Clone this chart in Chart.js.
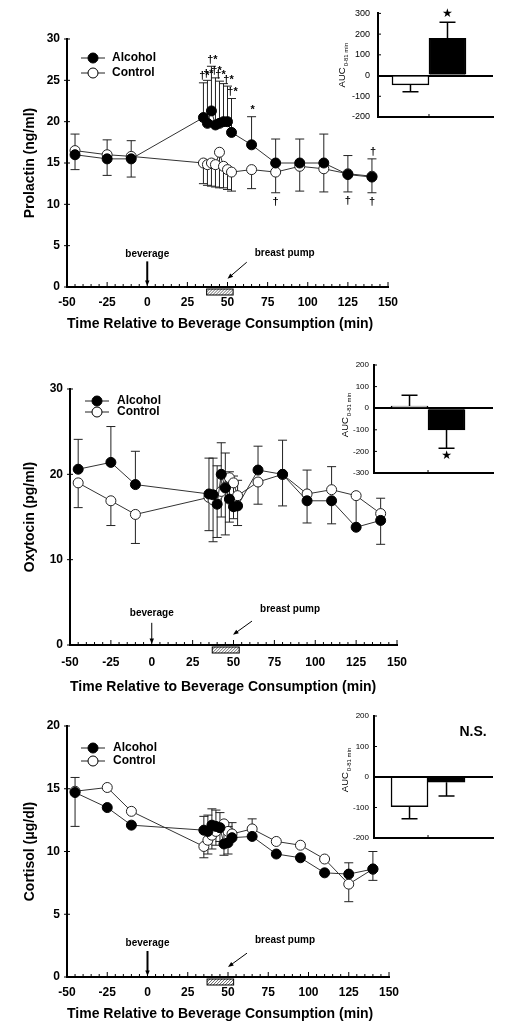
<!DOCTYPE html>
<html>
<head>
<meta charset="utf-8">
<script src="https://cdn.jsdelivr.net/npm/chart.js@4.4.1/dist/chart.umd.min.js"></script>
<style>
html,body{margin:0;padding:0;background:#fff;}
#wrap{position:relative;width:508px;height:1031px;overflow:hidden;background:#fff;}
canvas{position:absolute;}
</style>
</head>
<body>
<div id="wrap">
<canvas id="c1" width="508" height="340" style="left:0;top:0;"></canvas>
<canvas id="c2" width="508" height="357" style="left:0;top:340px;"></canvas>
<canvas id="c3" width="508" height="334" style="left:0;top:697px;"></canvas>
<canvas id="i1" width="208" height="135" style="left:300px;top:0;"></canvas>
<canvas id="i2" width="208" height="130" style="left:300px;top:355px;"></canvas>
<canvas id="i3" width="208" height="145" style="left:300px;top:706px;"></canvas>
</div>
<script>
const FONT = "'Liberation Sans', Arial, Helvetica, sans-serif";
const N = null;

// ---------- shared axis data ----------
const timePoints = [-45, -25, -10, 35, 37.5, 40, 42.5, 45, 47.5, 50, 52.5, 65, 80, 95, 110, 125, 140];
const xTicks = [-50, -25, 0, 25, 50, 75, 100, 125, 150];
const pumpPeriod = [37, 53.5];
const beverageTime = 0;

// ---------- Prolactin (ng/ml) ----------
const prolactinYTicks = [0, 5, 10, 15, 20, 25, 30];
const prolactinAlcohol = [16.0, 15.5, 15.5, 20.5, 19.8, 21.3, 19.6, 19.8, 20.0, 20.0, 18.7, 17.2, 15.0, 15.0, 15.0, 13.6, 13.3];
const prolactinControl = [16.5, 16.0, 15.8, 15.0, 14.8, 15.0, 14.8, 16.3, 14.6, 14.2, 13.9, 14.2, 13.9, 14.6, 14.3, 13.7, 13.4];
const prolactinAlcoholHi = [N, N, N, 24.7, 25.0, 26.7, 25.3, 24.9, 24.6, 24.3, 22.8, 20.6, 17.9, 17.9, 18.5, 15.9, 15.5];
const prolactinAlcoholLo = [14.2, 13.5, 13.3, N, N, N, N, N, N, N, N, N, N, N, N, N, N];
const prolactinControlHi = [18.5, 17.8, 17.7, N, N, N, N, N, N, N, N, N, N, N, N, N, N];
const prolactinControlLo = [N, N, N, 12.5, 12.3, 12.2, 12.1, 12.0, 12.0, 11.8, 11.6, 11.9, 11.4, 11.6, 11.5, 11.5, 11.4];
const prolactinMarksAbove = ['', '', '', '†*', '†*', '†*', '†*', '†*', '', '†*', '†*', '*', '', '', '', '', '†'];
const prolactinMarksBelow = ['', '', '', '', '', '', '', '', '', '', '', '', '†', '', '', '†', '†'];

// ---------- Oxytocin (pg/ml) ----------
const oxytocinYTicks = [0, 10, 20, 30];
const oxytocinAlcohol = [20.6, 21.4, 18.8, 17.7, 17.6, 16.5, 20.0, 18.4, 17.1, 16.2, 16.3, 20.5, 20.0, 16.9, 16.9, 13.8, 14.6];
const oxytocinControl = [19.0, 16.9, 15.3, 17.3, 17.0, 17.5, 18.0, 18.5, 19.6, 19.0, 17.5, 19.1, 20.0, 17.7, 18.2, 17.5, 15.4];
const oxytocinAlcoholHi = [24.1, 25.6, 22.7, 21.9, 21.9, 21.0, 23.7, 22.5, 20.3, 19.8, 19.3, 23.3, 24.0, N, N, 17.6, N];
const oxytocinAlcoholLo = [N, N, N, 13.4, 12.1, 12.6, 15.0, 12.9, 14.4, 14.8, 14.0, N, N, 14.3, 14.2, N, 11.8];
const oxytocinControlHi = [N, N, N, N, N, N, N, N, N, N, N, N, N, 20.5, 20.9, N, 17.2];
const oxytocinControlLo = [16.1, 14.0, 11.9, N, N, N, N, N, N, N, N, 16.5, 16.3, N, N, N, N];

// ---------- Cortisol (µg/dl) ----------
const cortisolYTicks = [0, 5, 10, 15, 20];
const cortisolAlcohol = [14.7, 13.5, 12.1, 11.7, 11.6, 12.1, 12.0, 11.9, 10.6, 10.7, 11.1, 11.2, 9.8, 9.5, 8.3, 8.2, 8.6];
const cortisolControl = [14.8, 15.1, 13.2, 10.4, 10.9, 11.3, 11.6, 11.9, 12.2, 11.6, 11.4, 11.8, 10.8, 10.5, 9.4, 7.4, 8.6];
const cortisolAlcoholHi = [N, N, N, 12.8, 12.9, 13.4, 13.3, 13.1, 12.0, 12.0, 12.3, N, N, N, N, 9.1, 10.0];
const cortisolAlcoholLo = [12.0, N, N, N, N, N, N, N, 9.7, 9.8, N, N, N, N, N, N, 7.7];
const cortisolControlHi = [15.9, N, N, N, N, N, N, N, N, N, N, 12.6, N, N, N, N, N];
const cortisolControlLo = [N, N, N, 9.5, 9.8, 10.2, 10.5, 10.8, N, N, N, N, N, N, N, 6.0, N];

// ---------- AUC insets ----------
const aucGroups = ['Control', 'Alcohol'];
const aucPositions = [1, 2];
const prolactinAUC = [-45, 180];
const prolactinAUCErr = [33, 77];
const prolactinAUCTicks = [-200, -100, 0, 100, 200, 300];
const oxytocinAUC = [10, -100];
const oxytocinAUCErr = [50, 85];
const oxytocinAUCTicks = [-300, -200, -100, 0, 100, 200];
const cortisolAUC = [-97, -17];
const cortisolAUCErr = [40, 45];
const cortisolAUCTicks = [-200, -100, 0, 100, 200];

// ---------- helpers ----------
function arrow(ctx, x1, y1, x2, y2, lw, head) {
  const ang = Math.atan2(y2 - y1, x2 - x1);
  ctx.lineWidth = lw;
  ctx.beginPath();
  ctx.moveTo(x1, y1);
  ctx.lineTo(x2 - Math.cos(ang) * head * 0.7, y2 - Math.sin(ang) * head * 0.7);
  ctx.stroke();
  ctx.beginPath();
  ctx.moveTo(x2, y2);
  ctx.lineTo(x2 - head * Math.cos(ang - 0.38), y2 - head * Math.sin(ang - 0.38));
  ctx.lineTo(x2 - head * Math.cos(ang + 0.38), y2 - head * Math.sin(ang + 0.38));
  ctx.closePath();
  ctx.fill();
}

function mainChart(id, p) {
  const canvas = document.getElementById(id);
  const W = canvas.width, H = canvas.height;
  const A = p.area;
  const plugin = {
    id: 'deco_' + id,
    beforeDatasetsDraw(chart) {
      const { ctx, scales: { x, y } } = chart;
      ctx.save();
      ctx.strokeStyle = '#222';
      ctx.lineWidth = 1;
      [[p.alcohol, p.alcHi, p.alcLo], [p.control, p.ctlHi, p.ctlLo]].forEach(([vals, hi, lo]) => {
        timePoints.forEach((t, i) => {
          const px = x.getPixelForValue(t), py = y.getPixelForValue(vals[i]);
          [hi[i], lo[i]].forEach(e => {
            if (e == null) return;
            const ey = y.getPixelForValue(e);
            ctx.beginPath();
            ctx.moveTo(px, py); ctx.lineTo(px, ey);
            ctx.moveTo(px - 4.5, ey); ctx.lineTo(px + 4.5, ey);
            ctx.stroke();
          });
        });
      });
      ctx.restore();
    },
    afterDraw(chart) {
      const { ctx, chartArea: a, scales: { x, y } } = chart;
      ctx.save();
      ctx.strokeStyle = '#000';
      ctx.fillStyle = '#000';
      // x axis minor / major ticks (pointing up)
      ctx.lineWidth = 1;
      for (let t = xTicks[0]; t <= xTicks[xTicks.length - 1]; t += 5) {
        const px = x.getPixelForValue(t);
        const len = (t % 25 === 0) ? 5 : 3;
        ctx.beginPath(); ctx.moveTo(px, a.bottom); ctx.lineTo(px, a.bottom - len); ctx.stroke();
      }
      // y axis ticks
      p.yTicks.forEach(v => {
        const py = y.getPixelForValue(v);
        ctx.beginPath(); ctx.moveTo(a.left - 3, py); ctx.lineTo(a.left + 3, py); ctx.stroke();
      });
      // hatched breast-pump bar
      const hx1 = x.getPixelForValue(pumpPeriod[0]), hx2 = x.getPixelForValue(pumpPeriod[1]);
      const hy = a.bottom + 2, hh = 6;
      ctx.save();
      ctx.beginPath(); ctx.rect(hx1, hy, hx2 - hx1, hh); ctx.clip();
      ctx.strokeStyle = '#444'; ctx.lineWidth = 0.8;
      for (let k = hx1 - hh; k < hx2 + hh; k += 3) {
        ctx.beginPath(); ctx.moveTo(k, hy + hh); ctx.lineTo(k + hh, hy); ctx.stroke();
      }
      ctx.restore();
      ctx.lineWidth = 1; ctx.strokeStyle = '#000';
      ctx.strokeRect(hx1, hy, hx2 - hx1, hh);
      // beverage arrow
      const bx = x.getPixelForValue(beverageTime);
      arrow(ctx, bx, y.getPixelForValue(p.bev.top), bx, a.bottom - 1, p.bev.lw, 6);
      ctx.font = 'bold 10px ' + FONT;
      ctx.textAlign = 'center'; ctx.textBaseline = 'middle';
      ctx.fillText('beverage', bx, y.getPixelForValue(p.bev.label));
      // breast pump arrow
      const bp = p.pump;
      arrow(ctx, x.getPixelForValue(bp.from[0]), y.getPixelForValue(bp.from[1]),
        x.getPixelForValue(bp.to[0]), y.getPixelForValue(bp.to[1]), 1, 6);
      ctx.fillText('breast pump', x.getPixelForValue(bp.label[0]), y.getPixelForValue(bp.label[1]));
      // significance marks
      if (p.marksAbove) {
        ctx.font = 'bold 11px ' + FONT;
        timePoints.forEach((t, i) => {
          const m = p.marksAbove[i];
          if (!m) return;
          const ref = p.alcHi[i] != null ? p.alcHi[i] : p.alcohol[i];
          ctx.textBaseline = 'bottom';
          ctx.fillText(m, x.getPixelForValue(t) + 1, y.getPixelForValue(ref) - 1);
        });
        timePoints.forEach((t, i) => {
          const m = p.marksBelow[i];
          if (!m) return;
          const ref = p.ctlLo[i] != null ? p.ctlLo[i] : p.control[i];
          ctx.textBaseline = 'top';
          ctx.fillText(m, x.getPixelForValue(t), y.getPixelForValue(ref) + 4);
        });
      }
      // legend
      const L = p.legend;
      [['#000', 'Alcohol', L.dy1], ['#fff', 'Control', L.dy2]].forEach(([fill, txt, dy]) => {
        const cx = a.left + L.dx, cy = a.top + dy;
        ctx.strokeStyle = '#222'; ctx.lineWidth = 1;
        ctx.beginPath(); ctx.moveTo(cx - 12, cy); ctx.lineTo(cx + 12, cy); ctx.stroke();
        ctx.beginPath(); ctx.arc(cx, cy, 5, 0, Math.PI * 2);
        ctx.fillStyle = fill; ctx.fill(); ctx.strokeStyle = '#000'; ctx.stroke();
        ctx.fillStyle = '#000';
        ctx.font = 'bold 12px ' + FONT;
        ctx.textAlign = 'left'; ctx.textBaseline = 'middle';
        ctx.fillText(txt, a.left + L.tx, cy);
      });
      ctx.restore();
    }
  };
  const mk = (vals) => timePoints.map((t, i) => ({ x: t, y: vals[i] }));
  return new Chart(canvas, {
    type: 'scatter',
    data: {
      datasets: [
        { label: 'Alcohol', data: mk(p.alcohol), showLine: true, borderColor: '#333', borderWidth: 1,
          pointRadius: 5, pointBackgroundColor: '#000', pointBorderColor: '#000', pointBorderWidth: 1, order: 0 },
        { label: 'Control', data: mk(p.control), showLine: true, borderColor: '#333', borderWidth: 1,
          pointRadius: 5, pointBackgroundColor: '#fff', pointBorderColor: '#222', pointBorderWidth: 1, order: 1 }
      ]
    },
    options: {
      responsive: false, animation: false, devicePixelRatio: 1,
      layout: { padding: { left: 0, top: A.top, right: W - A.right, bottom: 0 } },
      plugins: { legend: { display: false }, tooltip: { enabled: false } },
      scales: {
        x: {
          type: 'linear', min: xTicks[0], max: xTicks[xTicks.length - 1],
          afterBuildTicks: s => { s.ticks = xTicks.map(v => ({ value: v })); },
          afterFit: s => { s.height = H - A.bottom; },
          grid: { display: false, drawTicks: false },
          border: { display: true, color: '#000', width: 2 },
          ticks: { color: '#000', font: { size: 12, weight: 'bold', family: FONT }, padding: p.xPad, maxRotation: 0, autoSkip: false },
          title: { display: true, text: 'Time Relative to Beverage Consumption (min)', align: 'start', color: '#000',
            font: { size: 14, weight: 'bold', family: FONT }, padding: { top: 0, bottom: p.titlePad } }
        },
        y: {
          type: 'linear', min: p.yTicks[0], max: p.yTicks[p.yTicks.length - 1],
          afterBuildTicks: s => { s.ticks = p.yTicks.map(v => ({ value: v })); },
          afterFit: s => { s.width = A.left; },
          grid: { display: false, drawTicks: false },
          border: { display: true, color: '#000', width: 2 },
          ticks: { color: '#000', font: { size: 12, weight: 'bold', family: FONT }, padding: 7 },
          title: { display: true, text: p.yTitle, color: '#000',
            font: { size: 14, weight: 'bold', family: FONT }, padding: { top: 22, bottom: 0 } }
        }
      }
    },
    plugins: [plugin]
  });
}

function insetChart(id, q) {
  const canvas = document.getElementById(id);
  const W = canvas.width, H = canvas.height;
  const A = q.area;
  const plugin = {
    id: 'inset_' + id,
    afterDraw(chart) {
      const { ctx, chartArea: a, scales: { x, y } } = chart;
      ctx.save();
      ctx.strokeStyle = '#000'; ctx.fillStyle = '#000'; ctx.lineWidth = 1.5;
      // error bars (away from zero)
      aucPositions.forEach((pos, i) => {
        const v = q.values[i], e = q.errs[i];
        const end = v >= 0 ? v + e : v - e;
        const px = x.getPixelForValue(pos);
        const y0 = y.getPixelForValue(v), y1 = y.getPixelForValue(end);
        ctx.beginPath(); ctx.moveTo(px, y0); ctx.lineTo(px, y1);
        ctx.moveTo(px - 8, y1); ctx.lineTo(px + 8, y1); ctx.stroke();
        if (q.stars[i]) {
          ctx.font = '12px DejaVu Sans, sans-serif';
          ctx.textAlign = 'center';
          ctx.textBaseline = 'middle';
          ctx.fillText('★', px, y1 + (v >= 0 ? -8 : 8));
        }
      });
      // y ticks (inward)
      ctx.lineWidth = 1;
      q.ticks.forEach(v => {
        const py = y.getPixelForValue(v);
        ctx.beginPath(); ctx.moveTo(a.left, py); ctx.lineTo(a.left + 3, py); ctx.stroke();
      });
      // small tick on bottom axis between bars
      const mx = x.getPixelForValue((aucPositions[0] + aucPositions[1]) / 2);
      ctx.beginPath(); ctx.moveTo(mx, a.bottom); ctx.lineTo(mx, a.bottom - 3); ctx.stroke();
      // AUC title with subscript (rotated)
      ctx.translate(a.left - q.titleOffset, (a.top + a.bottom) / 2 + q.titleShift);
      ctx.rotate(-Math.PI / 2);
      ctx.font = '9.5px ' + FONT;
      const wA = ctx.measureText('AUC').width;
      ctx.font = '6px ' + FONT;
      const sub = '0-81 min';
      const wS = ctx.measureText(sub).width;
      const start = -(wA + wS + 1) / 2;
      ctx.textAlign = 'left'; ctx.textBaseline = 'middle';
      ctx.font = '9.5px ' + FONT;
      ctx.fillText('AUC', start, 0);
      ctx.font = '6px ' + FONT;
      ctx.fillText(sub, start + wA + 1, 4);
      ctx.restore();
      if (q.ns) {
        ctx.save();
        ctx.font = 'bold 14px ' + FONT;
        ctx.textAlign = 'center'; ctx.textBaseline = 'middle'; ctx.fillStyle = '#000';
        ctx.fillText(q.ns, a.right - 20, y.getPixelForValue(q.nsY));
        ctx.restore();
      }
    }
  };
  return new Chart(canvas, {
    type: 'bar',
    data: {
      labels: aucGroups,
      datasets: [{
        data: aucPositions.map((xv, i) => ({ x: xv, y: q.values[i] })),
        backgroundColor: ['#fff', '#000'], borderColor: '#000', borderWidth: 1.5,
        barThickness: 37, borderSkipped: 'start'
      }]
    },
    options: {
      responsive: false, animation: false, devicePixelRatio: 1,
      layout: { padding: { left: 0, top: A.top, right: W - A.right, bottom: 0 } },
      plugins: { legend: { display: false }, tooltip: { enabled: false } },
      scales: {
        x: {
          type: 'linear', min: q.xMin, max: q.xMax, offset: false,
          afterBuildTicks: s => { s.ticks = []; },
          afterFit: s => { s.height = H - A.bottom; },
          grid: { display: false, offset: false, drawTicks: false },
          border: { display: true, color: '#000', width: 2 },
          ticks: { display: false }
        },
        y: {
          type: 'linear', min: q.ticks[0], max: q.ticks[q.ticks.length - 1],
          afterBuildTicks: s => { s.ticks = q.ticks.map(v => ({ value: v })); },
          afterFit: s => { s.width = A.left; },
          grid: { color: c => (c.tick && c.tick.value === 0) ? '#000' : 'rgba(0,0,0,0)', lineWidth: 2, drawTicks: false },
          border: { display: true, color: '#000', width: 2 },
          ticks: { color: '#000', font: { size: q.tickSize, family: FONT }, padding: q.tickPad }
        }
      }
    },
    plugins: [plugin]
  });
}

// ---------- main panels ----------
mainChart('c1', {
  alcohol: prolactinAlcohol, control: prolactinControl,
  alcHi: prolactinAlcoholHi, alcLo: prolactinAlcoholLo, ctlHi: prolactinControlHi, ctlLo: prolactinControlLo,
  marksAbove: prolactinMarksAbove, marksBelow: prolactinMarksBelow,
  yTicks: prolactinYTicks, yTitle: 'Prolactin (ng/ml)',
  area: { left: 67, right: 388, top: 39, bottom: 287 }, xPad: 8, titlePad: 7,
  bev: { top: 3.1, label: 4.0, lw: 2 },
  pump: { from: [62, 3.0], to: [50, 1.0], label: [85.6, 4.1] },
  legend: { dx: 26, dy1: 19, dy2: 34, tx: 45 }
});
mainChart('c2', {
  alcohol: oxytocinAlcohol, control: oxytocinControl,
  alcHi: oxytocinAlcoholHi, alcLo: oxytocinAlcoholLo, ctlHi: oxytocinControlHi, ctlLo: oxytocinControlLo,
  yTicks: oxytocinYTicks, yTitle: 'Oxytocin (pg/ml)',
  area: { left: 70, right: 397, top: 49, bottom: 305 }, xPad: 10, titlePad: 1,
  bev: { top: 2.6, label: 3.75, lw: 1 },
  pump: { from: [61.3, 2.8], to: [49.7, 1.2], label: [84.6, 4.2] },
  legend: { dx: 27, dy1: 12, dy2: 23, tx: 47 }
});
mainChart('c3', {
  alcohol: cortisolAlcohol, control: cortisolControl,
  alcHi: cortisolAlcoholHi, alcLo: cortisolAlcoholLo, ctlHi: cortisolControlHi, ctlLo: cortisolControlLo,
  yTicks: cortisolYTicks, yTitle: 'Cortisol (μg/dl)',
  area: { left: 67, right: 389, top: 29, bottom: 280 }, xPad: 8, titlePad: 8,
  bev: { top: 2.07, label: 2.7, lw: 2 },
  pump: { from: [61.8, 1.9], to: [50, 0.8], label: [85.4, 2.9] },
  legend: { dx: 26, dy1: 22, dy2: 35, tx: 46 }
});

// ---------- AUC insets ----------
insetChart('i1', {
  values: prolactinAUC, errs: prolactinAUCErr, ticks: prolactinAUCTicks, stars: [false, true],
  area: { left: 78, right: 193, top: 8, bottom: 117 }, xMin: 0.122, xMax: 3.23,
  titleOffset: 36, titleShift: 0, tickSize: 9, tickPad: 8
});
insetChart('i2', {
  values: oxytocinAUC, errs: oxytocinAUCErr, ticks: oxytocinAUCTicks, stars: [false, true],
  area: { left: 74, right: 193, top: 10, bottom: 118 }, xMin: 0.04, xMax: 3.256,
  titleOffset: 29, titleShift: -4, tickSize: 8, tickPad: 5
});
insetChart('i3', {
  values: cortisolAUC, errs: cortisolAUCErr, ticks: cortisolAUCTicks, stars: [false, false],
  area: { left: 74, right: 193, top: 10, bottom: 132 }, xMin: 0.04, xMax: 3.256,
  titleOffset: 29, titleShift: -7, tickSize: 8, tickPad: 5, ns: 'N.S.', nsY: 148
});
</script>
</body>
</html>
